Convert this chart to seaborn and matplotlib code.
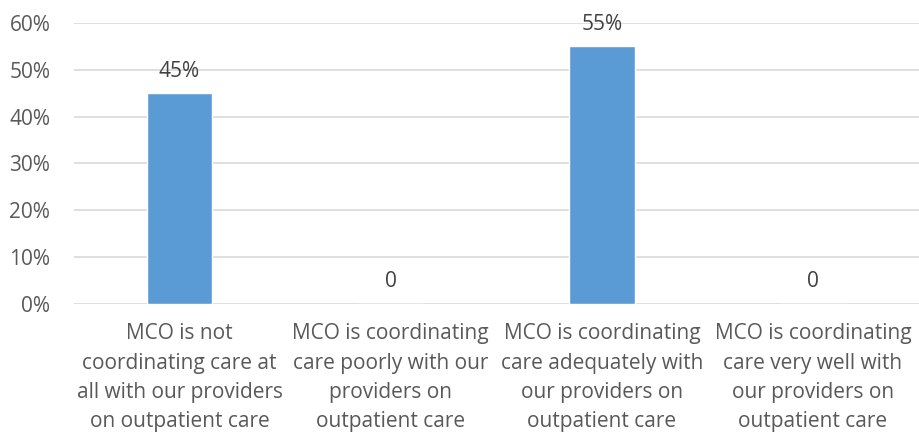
import seaborn as sns
import matplotlib.pyplot as plt
import pandas as pd
from matplotlib.ticker import PercentFormatter

# DATA
categories = [
    "MCO is not\ncoordinating care at\nall with our providers\non outpatient care",
    "MCO is coordinating\ncare poorly with our\nproviders on\noutpatient care",
    "MCO is coordinating\ncare adequately with\nour providers on\noutpatient care",
    "MCO is coordinating\ncare very well with\nour providers on\noutpatient care",
]
values = [0.45, 0.0, 0.55, 0.0]
bar_labels = ["45%", "0", "55%", "0"]

df = pd.DataFrame({"category": categories, "value": values})

sns.set_theme(style="white")
plt.rcParams['font.family'] = ['Open Sans', 'DejaVu Sans']
txt = "#595959"

fig = plt.figure(figsize=(9.2, 4.38), dpi=100)
ax = fig.add_axes([0.0804, 0.306, 0.918, 0.6415])

sns.barplot(data=df, x="category", y="value", color="#5B9BD5", width=0.31,
            saturation=1, ax=ax, zorder=3)

ax.set_ylim(0, 0.6)
ax.set_yticks([0, 0.1, 0.2, 0.3, 0.4, 0.5, 0.6])
ax.yaxis.set_major_formatter(PercentFormatter(1.0, decimals=0))
ax.grid(axis="y", color="#d9d9d9", linewidth=1.2, zorder=0)
ax.set_axisbelow(True)
for s in ax.spines.values():
    s.set_visible(False)
ax.set_xlabel("")
ax.set_ylabel("")
ax.tick_params(axis="y", labelsize=15, colors=txt, length=0, pad=17)
ax.tick_params(axis="x", labelsize=15, colors=txt, length=0, pad=14)
for lab in ax.get_xticklabels():
    lab.set_linespacing(1.52)

for i, (v, lab) in enumerate(zip(values, bar_labels)):
    ax.annotate(lab, (i, v), xytext=(0, 16), textcoords="offset points",
                ha="center", va="center", fontsize=15, color="#404040")

fig.savefig("out.png", dpi=100)
